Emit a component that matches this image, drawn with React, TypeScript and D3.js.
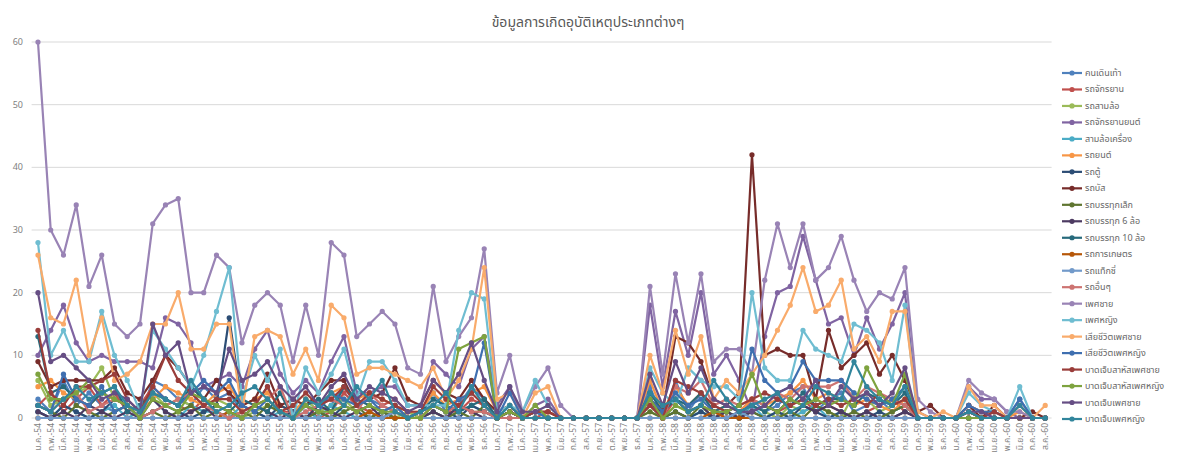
import React from "react";
import * as d3 from "d3";

const monthNames = ["ม.ค.", "ก.พ.", "มี.ค.", "เม.ย.", "พ.ค.", "มิ.ย.", "ก.ค.", "ส.ค.", "ก.ย.", "ต.ค.", "พ.ย.", "ธ.ค."];
const years = ["54", "55", "56", "57", "58", "59", "60"];
const categories: string[] = [];
years.forEach((yy) => monthNames.forEach((m) => categories.push(`${m}-${yy}`)));
categories.splice(80);

const yTicks = [0, 10, 20, 30, 40, 50, 60];
const title = "ข้อมูลการเกิดอุบัติเหตุประเภทต่างๆ";

const seriesNames = [
  "คนเดินเท้า", "รถจักรยาน", "รถสามล้อ", "รถจักรยานยนต์", "สามล้อเครื่อง", "รถยนต์", "รถตู้", "รถบัส",
  "รถบรรทุกเล็ก", "รถบรรทุก 6 ล้อ", "รถบรรทุก 10 ล้อ", "รถการเกษตร", "รถแท็กซี่", "รถอื่นๆ",
  "เพศชาย", "เพศหญิง", "เสียชีวิตเพศชาย", "เสียชีวิตเพศหญิง", "บาดเจ็บสาหัสเพศชาย", "บาดเจ็บสาหัสเพศหญิง",
  "บาดเจ็บเพศชาย", "บาดเจ็บเพศหญิง",
];

const s01 = [3,1,6,2,4,2,1,2,0,6,5,3,2,5,3,4,1,2,5,1,0,3,1,2,5,2,3,2,1,0,1,4,1,2,5,3,0,2,0,1,0, 0,0,0,0,0,0,0, 5,0,6,1,4,2,1,0,3,1,2,4,5,1,3,4,1,2,3,1,2, 0,0,0,0,2,1,0,0,3,0,0];
const s02 = [2,4,1,3,5,2,4,1,2,5,3,2,1,3,2,1,0,2,3,1,1,2,0,1,4,2,1,2,3,1,0,2,1,1,3,2,0,1,0,0,1, 0,0,0,0,0,0,0, 2,0,3,1,2,1,0,1,3,2,1,2,3,1,2,1,0,1,2,3,1, 0,0,0,0,1,0,1,0,0,0,0];
const s03 = [6,2,3,4,5,8,3,2,1,4,2,3,2,1,3,2,0,1,2,1,0,3,1,2,3,1,2,1,0,1,0,2,1,2,1,1,0,1,0,0,0, 0,0,0,0,0,0,0, 1,0,2,1,2,0,1,0,2,1,0,2,1,2,1,0,4,3,1,2,3, 0,0,0,0,1,0,0,0,0,0,0];
const s04 = [10,14,18,12,9,10,9,9,9,8,16,15,12,5,6,7,5,11,14,7,4,6,4,9,13,4,4,5,5,2,2,9,7,5,11,13,2,5,0,2,3, 0,0,0,0,0,0,0, 18,5,17,10,20,7,10,6,1,13,20,21,29,22,15,16,10,16,11,15,20, 1,0,0,0,5,3,3,1,0,0,0];
const s05 = [1,0,2,1,0,1,2,0,1,3,1,0,2,1,1,0,2,1,0,1,0,1,0,2,1,0,1,0,1,0,0,1,0,1,2,1,0,0,0,1,0, 0,0,0,0,0,0,0, 2,0,1,0,1,0,1,0,2,0,1,0,1,2,0,1,0,1,0,1,2, 0,0,0,0,0,0,0,0,0,0,0];
const s06 = [5,6,4,3,2,4,3,2,1,3,5,4,3,2,4,5,2,3,4,2,1,3,2,4,5,3,4,3,2,1,1,4,2,3,4,5,1,2,0,1,1, 0,0,0,0,0,0,0, 6,1,5,2,4,1,2,1,3,2,3,4,6,3,4,3,2,3,2,1,3, 0,0,0,0,2,1,1,0,1,0,0];
const s07 = [1,0,2,1,0,1,3,2,0,1,2,1,0,1,2,16,2,1,0,2,1,0,1,0,2,1,0,1,0,0,1,2,1,0,2,1,0,1,0,0,0, 0,0,0,0,0,0,0, 2,0,1,0,1,0,0,1,1,0,1,0,2,1,0,1,0,0,1,0,1, 0,0,0,0,0,0,0,0,0,0,0];
const s08 = [9,5,6,6,6,6,8,4,3,6,10,8,5,3,6,4,2,3,7,2,3,2,4,6,6,2,3,4,8,3,2,6,4,3,6,3,1,2,0,1,1, 0,0,0,0,0,0,0, 3,1,13,12,9,3,2,4,42,10,11,10,10,3,14,8,10,12,7,10,6, 1,2,0,0,2,0,2,0,0,1,0];
const s09 = [2,1,0,2,1,0,1,2,0,1,0,1,2,0,1,0,1,0,2,1,0,0,1,0,1,2,0,1,0,0,0,1,0,1,0,2,0,0,0,0,0, 0,0,0,0,0,0,0, 1,0,1,0,2,0,1,0,1,0,0,1,0,2,1,0,1,0,0,1,2, 0,0,0,0,0,0,0,0,0,0,0];
const s10 = [1,0,1,0,2,1,0,1,0,3,1,0,1,2,0,1,0,2,1,0,1,0,2,1,0,1,2,0,1,0,0,1,0,2,1,0,0,1,0,0,0, 0,0,0,0,0,0,0, 2,1,3,1,2,0,1,0,1,2,1,3,2,1,2,1,0,1,0,0,1, 0,0,0,0,0,0,0,0,0,0,0];
const s11 = [13,4,5,3,2,4,5,1,2,4,3,2,5,3,2,1,3,2,1,4,0,2,3,1,5,3,2,1,2,0,1,3,2,1,2,3,0,1,0,0,0, 0,0,0,0,0,0,0, 4,1,3,2,4,1,2,1,2,1,3,2,4,2,3,3,2,4,3,2,4, 0,0,0,0,1,0,0,0,2,0,0];
const s12 = [0,0,0,0,0,0,0,0,0,0,0,0,0,0,0,1,0,0,0,0,0,0,0,0,0,0,1,0,0,0,0,0,0,0,0,0,0,0,0,0,0, 0,0,0,0,0,0,0, 0,0,0,0,0,1,0,0,0,0,0,0,0,0,0,0,0,0,0,0,0, 0,0,0,0,0,0,0,0,0,0,0];
const s13 = [0,0,0,0,0,0,0,0,0,0,0,0,0,0,0,0,0,0,0,0,0,0,0,0,0,0,0,0,1,0,0,0,0,0,0,0,0,0,0,0,0, 0,0,0,0,0,0,0, 0,0,0,0,0,0,0,1,0,0,0,0,0,0,0,0,0,0,0,0,0, 0,0,0,0,0,0,0,0,0,0,0];
const s14 = [2,1,3,4,1,2,3,2,0,1,2,3,4,2,1,0,1,2,3,5,0,1,2,3,2,1,4,2,1,0,0,2,1,2,1,1,0,0,0,0,0, 0,0,0,0,0,0,0, 2,0,5,4,6,2,3,2,3,2,4,3,5,5,5,6,3,5,4,3,2, 0,0,0,0,1,0,0,0,0,0,0];
const s15 = [60,30,26,34,21,26,15,13,15,31,34,35,20,20,26,24,12,18,20,18,9,18,10,28,26,13,15,17,15,8,7,21,9,13,16,27,4,10,1,5,8, 2,0,0,0,0,0,0, 21,7,23,12,23,9,11,11,7,22,31,24,31,22,24,29,22,17,20,19,24, 3,1,0,0,6,4,3,1,1,0,0];
const s16 = [28,10,14,9,9,17,10,6,1,14,11,8,5,10,17,24,3,10,6,11,0,8,4,7,11,3,9,9,6,2,2,2,2,14,20,19,1,2,1,6,2, 0,0,0,0,0,0,0, 8,4,2,8,6,5,5,3,20,8,6,6,14,11,10,9,15,14,12,6,18, 0,0,0,0,4,2,1,0,5,0,0];
const s17 = [26,16,15,22,10,16,6,7,9,15,15,20,11,11,15,15,1,13,14,13,7,11,6,18,16,7,8,8,7,6,5,8,3,6,11,24,3,4,0,4,5, 0,0,0,0,0,0,0, 10,4,14,7,13,3,6,4,7,10,14,18,24,17,18,22,11,13,9,17,17, 1,0,1,0,5,2,2,0,2,0,2];
const s18 = [2,1,7,3,2,5,1,2,0,5,3,2,4,6,4,6,2,1,3,1,0,2,1,4,3,2,3,1,2,0,1,2,1,3,4,12,0,4,0,1,0, 0,0,0,0,0,0,0, 3,1,4,2,3,1,1,2,11,6,4,5,9,6,6,6,4,3,2,3,5, 0,0,0,0,2,1,1,0,3,0,0];
const s19 = [14,4,2,5,5,6,7,3,1,5,10,6,4,2,3,3,1,2,5,1,2,4,2,3,5,2,4,3,2,1,1,5,3,2,4,2,0,1,0,1,1, 0,0,0,0,0,0,0, 2,0,6,5,4,2,1,2,3,4,3,2,3,2,3,2,3,2,4,2,3, 0,0,0,0,1,0,1,0,0,0,0];
const s20 = [7,3,3,4,6,4,3,2,0,3,2,1,4,3,2,1,0,2,3,1,0,2,1,1,2,1,2,1,1,0,0,2,1,11,12,13,0,1,0,2,0, 0,0,0,0,0,0,0, 3,0,2,1,2,1,1,2,7,2,1,3,2,3,2,3,2,8,4,2,7, 0,0,0,0,0,0,0,0,0,0,0];
const s21 = [20,9,10,8,6,3,4,3,1,15,10,12,4,5,4,11,6,7,9,5,3,5,2,5,7,3,5,4,3,1,2,6,4,7,12,6,1,5,1,1,2, 0,0,0,0,0,0,0, 7,2,9,4,8,3,2,1,1,2,4,5,3,6,2,5,3,4,2,4,8, 0,0,0,0,1,1,0,0,0,0,0];
const s22 = [2,1,3,5,3,4,5,2,1,4,3,2,6,3,1,2,4,5,3,1,0,3,2,4,2,5,3,6,1,0,1,2,4,1,5,2,0,2,0,0,0, 0,0,0,0,0,0,0, 4,2,3,1,2,6,3,1,2,3,4,1,2,5,4,3,9,5,3,2,5, 0,0,0,0,1,0,0,0,2,0,0];

const seriesValues = [s01, s02, s03, s04, s05, s06, s07, s08, s09, s10, s11, s12, s13, s14, s15, s16, s17, s18, s19, s20, s21, s22];

const seriesColors = [
  "#4F81BD", "#C0504D", "#9BBB59", "#8064A2", "#4BACC6", "#F79646", "#2C4D75", "#772C2A",
  "#5F7530", "#4D3B62", "#276A7C", "#B65708", "#729ACA", "#CD7371", "#9983B5", "#6FBDD1",
  "#F9AB6B", "#3F6FB0", "#9A3D3A", "#7EA33F", "#664E84", "#31859C",
];

const FONT = "'Noto Sans Thai', 'Noto Sans', 'DejaVu Sans', sans-serif";

export default function App() {
  const W = 1180, H = 455;
  const left = 31.6, right = 1051.6, top = 42, bottom = 418;
  const x = d3.scaleBand<string>().domain(categories).range([left, right]).paddingInner(0).paddingOuter(0);
  const bw = x.bandwidth();
  const cx = (c: string) => (x(c) as number) + bw / 2;
  const y = d3.scaleLinear().domain([0, 60]).range([bottom, top]);
  const line = d3.line<number>().x((_, i) => cx(categories[i])).y((v) => y(v));

  const legendX = 1062;
  const legendY0 = 73;
  const legendStep = (419 - 73) / 21;

  return (
    <div style={{ position: "absolute", left: 0, top: 0 }}>
      <svg width={W} height={H} style={{ display: "block", background: "#fff" }} fontFamily={FONT}>
        <rect x={0} y={0} width={W} height={H} fill="#ffffff" />
        <text x={588} y={27} textAnchor="middle" fontSize={14} fill="#595959">{title}</text>
        {yTicks.map((t) => (
          <g key={t}>
            <line x1={left} x2={right} y1={y(t)} y2={y(t)} stroke="#D9D9D9" strokeWidth={1} />
            <text x={23} y={y(t) + 3} textAnchor="end" fontSize={9} fill="#7F7F7F">{t}</text>
          </g>
        ))}
        {categories.map((c) => (
          <text key={"lb" + c} transform={`translate(${cx(c) + 3},${bottom + 5}) rotate(-90)`} textAnchor="end" fontSize={8.5} fill="#7F7F7F">{c}</text>
        ))}
        {seriesValues.map((vals, si) => (
          <g key={"s" + si}>
            <path d={line(vals) || ""} fill="none" stroke={seriesColors[si]} strokeWidth={2.2} strokeLinejoin="round" />
            {vals.map((v, i) => (
              <circle key={i} cx={cx(categories[i])} cy={y(v)} r={2.6} fill={seriesColors[si]} />
            ))}
          </g>
        ))}
        {seriesNames.map((n, i) => {
          const ly = legendY0 + i * legendStep;
          return (
            <g key={"lg" + i}>
              <line x1={legendX} x2={legendX + 20} y1={ly} y2={ly} stroke={seriesColors[i]} strokeWidth={2.2} />
              <circle cx={legendX + 10} cy={ly} r={2.6} fill={seriesColors[i]} />
              <text x={legendX + 23} y={ly + 3} fontSize={9} fill="#666666">{n}</text>
            </g>
          );
        })}
      </svg>
    </div>
  );
}
